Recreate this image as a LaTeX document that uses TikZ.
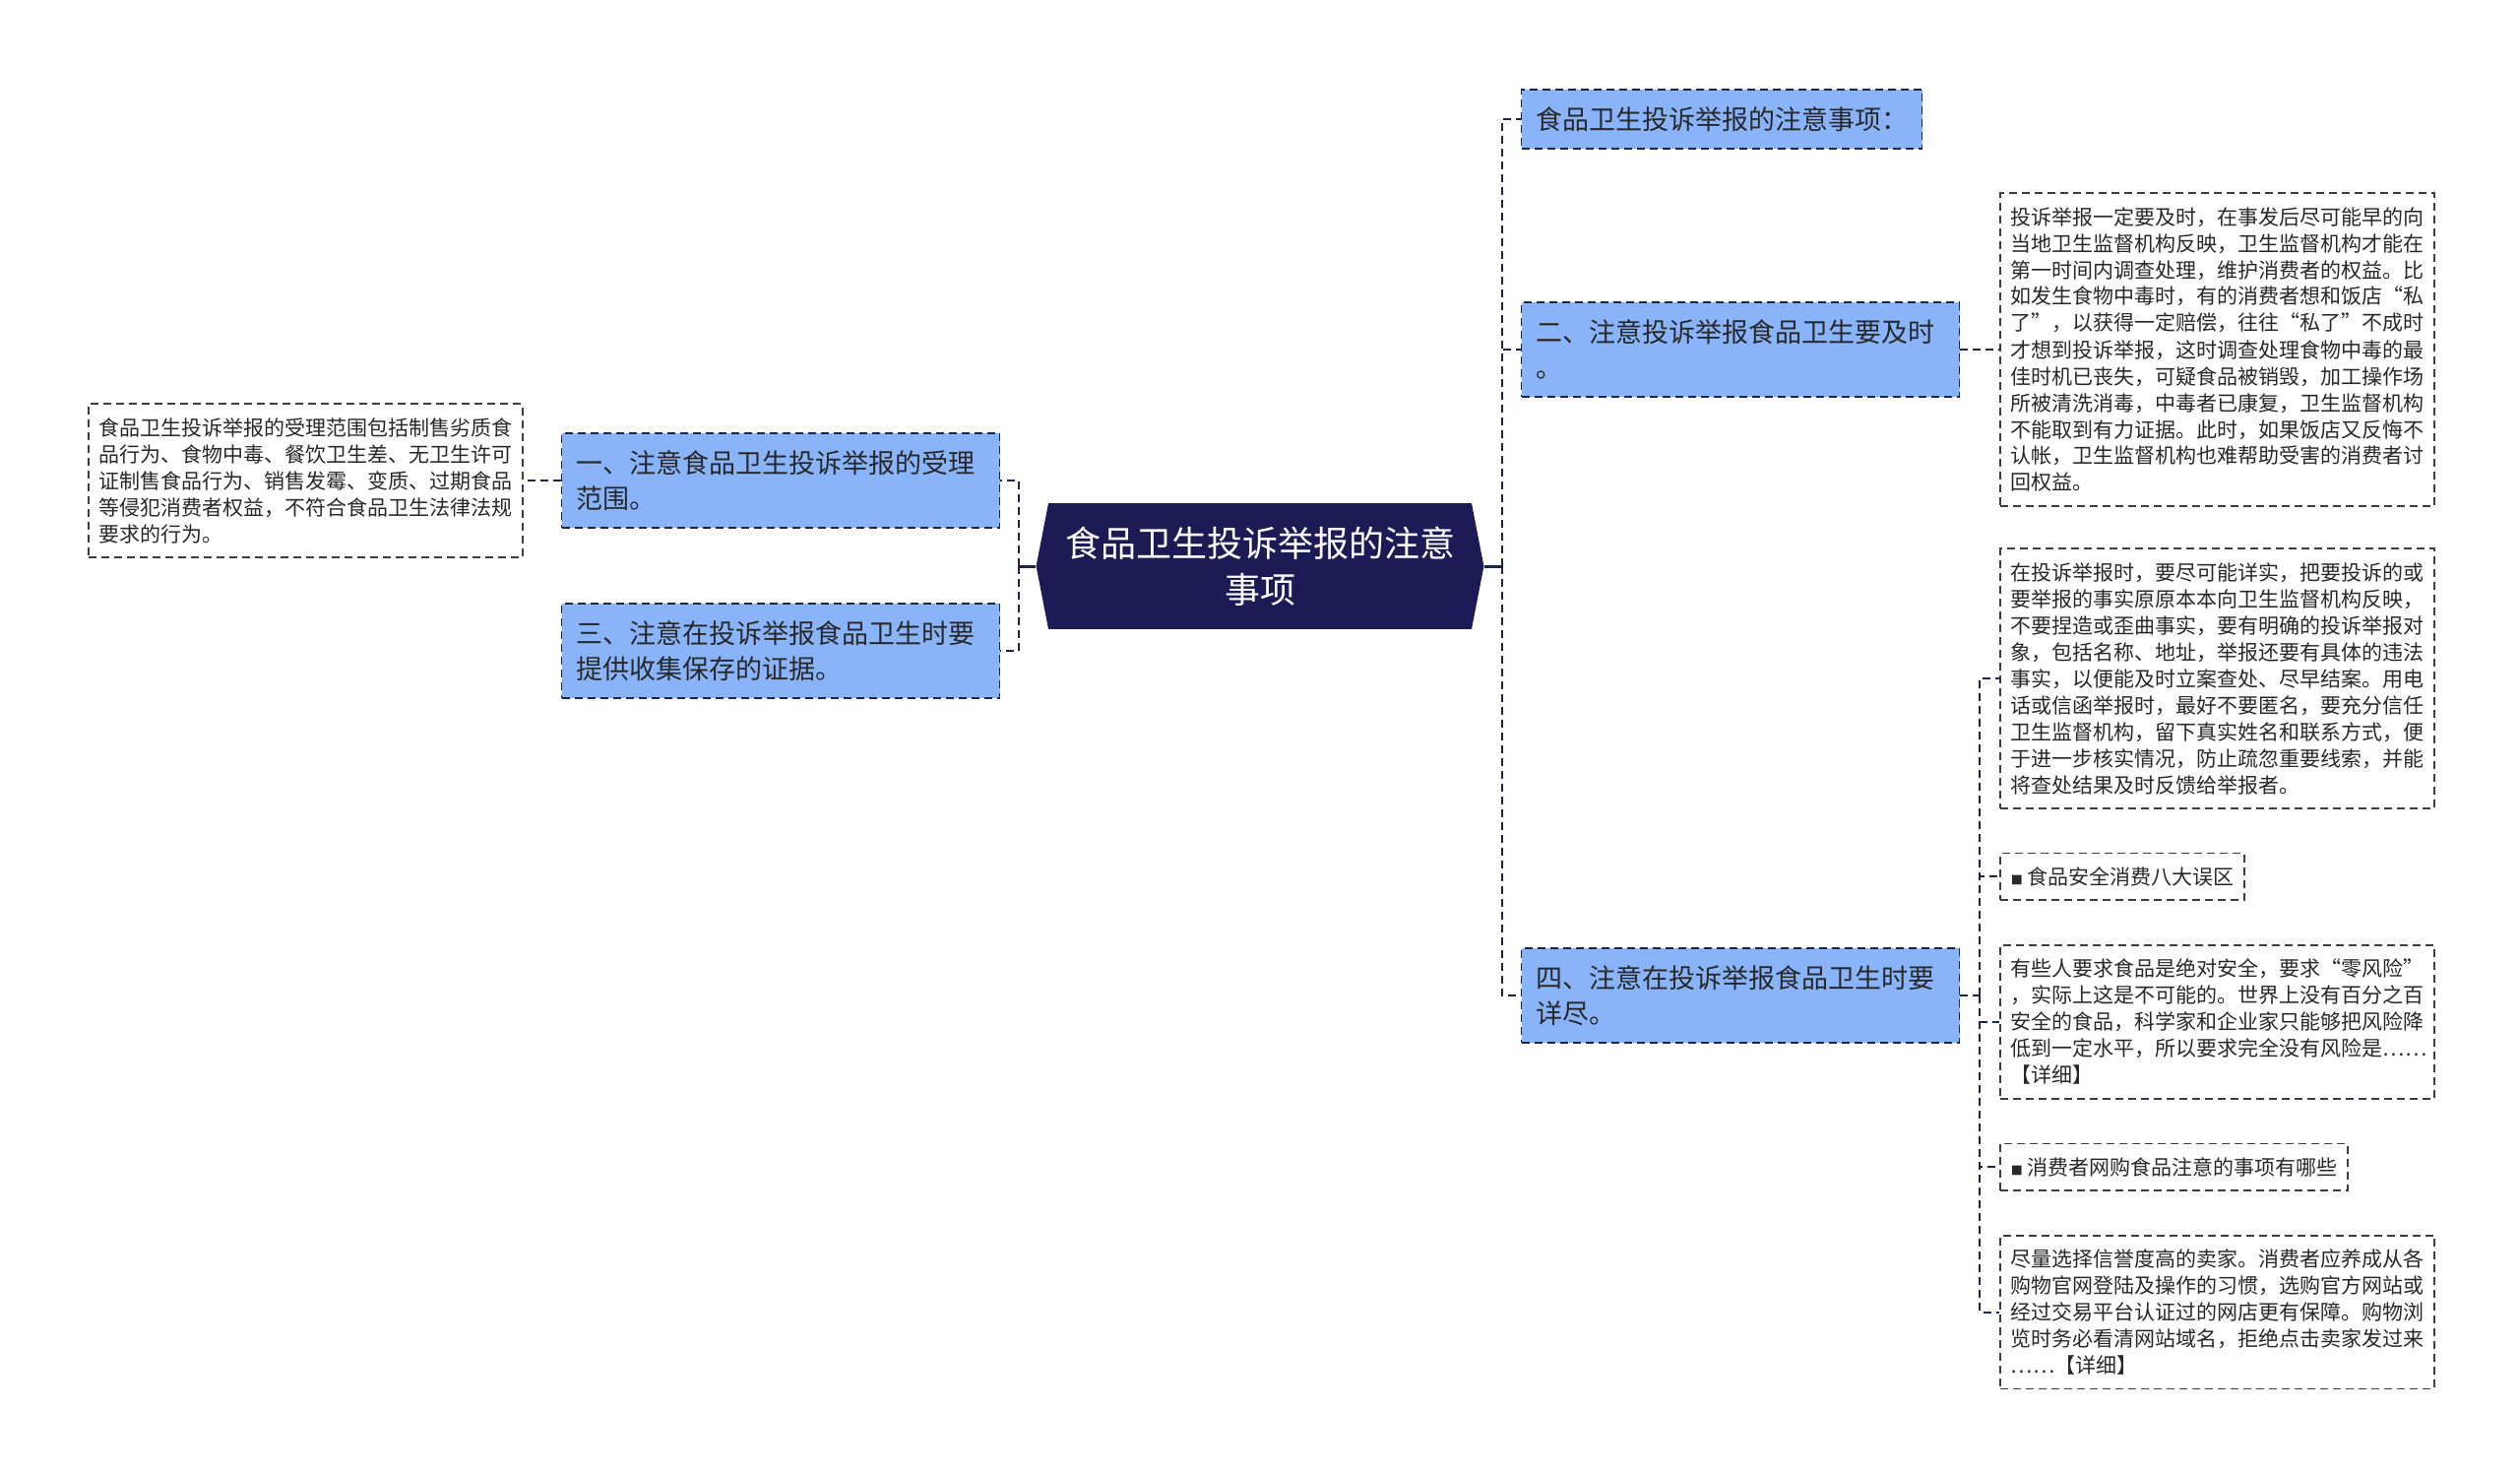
\documentclass[tikz,border=0pt]{standalone}
\usepackage{fontspec}
\setmainfont{Noto Sans CJK SC}
\usetikzlibrary{positioning,shapes.symbols}
\definecolor{rootfill}{RGB}{28,27,86}
\definecolor{topicfill}{RGB}{138,180,250}
\definecolor{edgecol}{RGB}{30,36,70}
\definecolor{leafline}{RGB}{60,60,72}
\definecolor{txt}{RGB}{40,40,40}

\begin{document}
\begin{tikzpicture}[x=1pt,y=-1pt,
    root/.style={signal,signal to=west and east,signal pointer angle=158,fill=rootfill,text=white,
      font=\fontsize{36}{47}\selectfont,align=center,inner xsep=17pt,inner ysep=23.5pt},
    topic/.style={draw=edgecol,fill=topicfill,line width=1.8pt,dash pattern=on 8pt off 5pt,text=txt,
      font=\fontsize{27}{36}\selectfont,align=left,inner xsep=14.5pt,inner ysep=17.5pt},
    topicwide/.style={topic,text width=416pt},
    leaf/.style={draw=leafline,fill=white,line width=1.8pt,dash pattern=on 8pt off 5pt,text=txt,
      font=\fontsize{21}{27}\selectfont,align=left,inner xsep=10.5pt,inner ysep=14pt},
    leafwide/.style={leaf,text width=420pt},
    link/.style={draw=edgecol,line width=2pt,dash pattern=on 8pt off 5pt},
    stem/.style={draw=edgecol,line width=3pt}]
        \useasboundingbox (0,0) rectangle (2560,1498);
        \node[root] (root) at (1280,575) {食品卫生投诉举报的注意\\事项};
        % left side
        \node[topicwide] (l1) [left=36pt of root.west,yshift=87pt] {一、注意食品卫生投诉举报的受理\\范围。};
        \node[topicwide] (l3) [left=36pt of root.west,yshift=-86pt] {三、注意在投诉举报食品卫生时要\\提供收集保存的证据。};
        \node[leafwide] (scope) [left=38pt of l1.west] {食品卫生投诉举报的受理范围包括制售劣质食\\品行为、食物中毒、餐饮卫生差、无卫生许可\\证制售食品行为、销售发霉、变质、过期食品\\等侵犯消费者权益，不符合食品卫生法律法规\\要求的行为。};
        % right side
        \node[topic] (r1) [right=37pt of root.east,yshift=454pt] {食品卫生投诉举报的注意事项：};
        \node[topicwide] (r2) [right=37pt of root.east,yshift=220pt] {二、注意投诉举报食品卫生要及时\\。};
        \node[topicwide] (r4) [right=37pt of root.east,yshift=-436pt] {四、注意在投诉举报食品卫生时要\\详尽。};
        \node[leafwide] (timely) [right=40pt of r2.east] {投诉举报一定要及时，在事发后尽可能早的向\\当地卫生监督机构反映，卫生监督机构才能在\\第一时间内调查处理，维护消费者的权益。比\\如发生食物中毒时，有的消费者想和饭店“私\\了”，以获得一定赔偿，往往“私了”不成时\\才想到投诉举报，这时调查处理食物中毒的最\\佳时机已丧失，可疑食品被销毁，加工操作场\\所被清洗消毒，中毒者已康复，卫生监督机构\\不能取到有力证据。此时，如果饭店又反悔不\\认帐，卫生监督机构也难帮助受害的消费者讨\\回权益。};
        \node[leafwide] (detail) [right=40pt of r4.east,yshift=322pt] {在投诉举报时，要尽可能详实，把要投诉的或\\要举报的事实原原本本向卫生监督机构反映，\\不要捏造或歪曲事实，要有明确的投诉举报对\\象，包括名称、地址，举报还要有具体的违法\\事实，以便能及时立案查处、尽早结案。用电\\话或信函举报时，最好不要匿名，要充分信任\\卫生监督机构，留下真实姓名和联系方式，便\\于进一步核实情况，防止疏忽重要线索，并能\\将查处结果及时反馈给举报者。};
        \node[leaf] (myth) [below=44pt of detail.south west,anchor=north west] {{\fontsize{12}{12}\selectfont ■}\ 食品安全消费八大误区};
        \node[leafwide] (mythtxt) [below=44pt of myth.south west,anchor=north west] {有些人要求食品是绝对安全，要求“零风险”\\，实际上这是不可能的。世界上没有百分之百\\安全的食品，科学家和企业家只能够把风险降\\低到一定水平，所以要求完全没有风险是……\\【详细】};
        \node[leaf] (shop) [below=44pt of mythtxt.south west,anchor=north west] {{\fontsize{12}{12}\selectfont ■}\ 消费者网购食品注意的事项有哪些};
        \node[leafwide] (shoptxt) [below=44pt of shop.south west,anchor=north west] {尽量选择信誉度高的卖家。消费者应养成从各\\购物官网登陆及操作的习惯，选购官方网站或\\经过交易平台认证过的网店更有保障。购物浏\\览时务必看清网站域名，拒绝点击卖家发过来\\……【详细】};
        % connectors
        \coordinate (lj) at ([xshift=-17pt]root.west);
        \coordinate (rj) at ([xshift=18pt]root.east);
        \coordinate (r4j) at ([xshift=20pt]r4.east);
        \draw[stem] (root.west) -- (lj);
        \draw[stem] (root.east) -- (rj);
        \foreach \n in {l1,l3} \draw[link] (lj) |- (\n.east);
        \foreach \n in {r1,r2,r4} \draw[link] (rj) |- (\n.west);
        \draw[link] (l1.west) -- (scope.east);
        \draw[link] (r2.east) -- (timely.west);
        \draw[link] (r4.east) -- (r4j);
        \foreach \n in {detail,myth,mythtxt,shop,shoptxt} \draw[link] (r4j) |- (\n.west);
    \end{tikzpicture}
\end{document}
